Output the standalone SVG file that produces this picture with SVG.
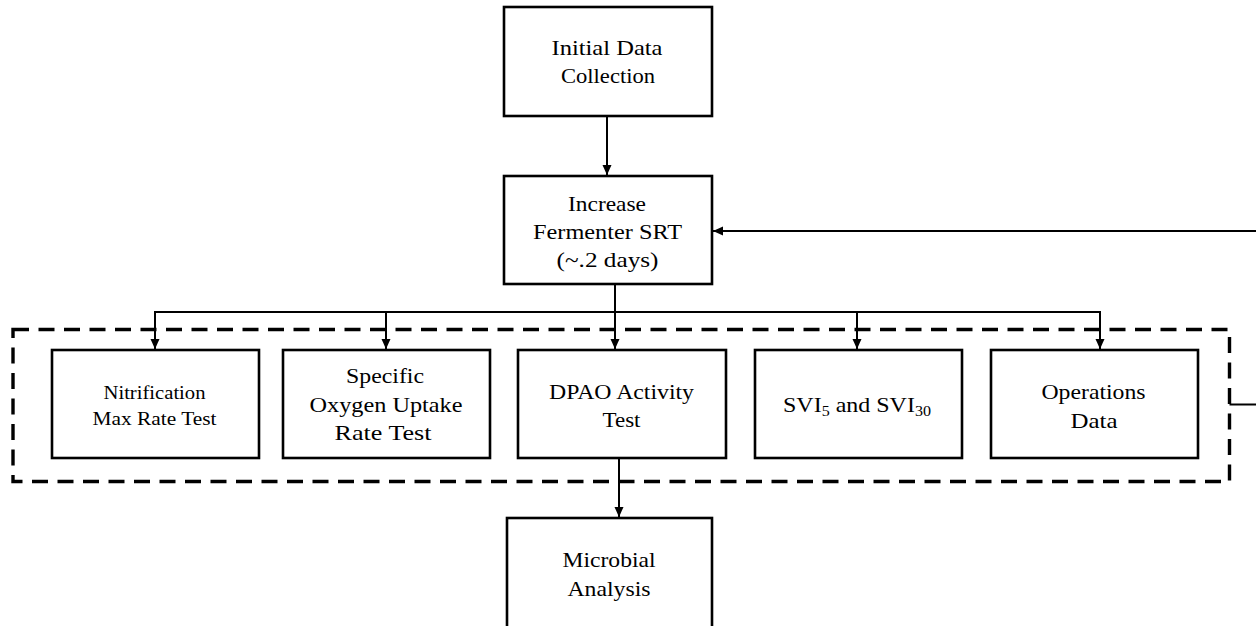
<svg xmlns="http://www.w3.org/2000/svg" width="1256" height="626" viewBox="0 0 1256 626">
<style>
.box{fill:#fff;stroke:#000;stroke-width:2.6}
.t{font-family:"Liberation Serif","Times New Roman",serif;font-size:20.9px;fill:#000;text-anchor:middle}
.s{font-size:18px}
.c{fill:none;stroke:#000;stroke-width:2}
.dash{fill:none;stroke:#000;stroke-width:3.4;stroke-dasharray:16 9.5}
</style>
<defs>
<marker id="ah" viewBox="0 0 10 10" refX="10" refY="5" markerWidth="10" markerHeight="10" markerUnits="userSpaceOnUse" orient="auto">
<path d="M0,0.5 L10,5 L0,9.5 z" fill="#000"/>
</marker>
</defs>
<rect class="dash" x="13" y="329.5" width="1216.5" height="152"/>
<g id="connectors">
<line class="c" x1="607" y1="116" x2="607" y2="175" marker-end="url(#ah)"/>
<line class="c" x1="1256" y1="231" x2="713" y2="231" marker-end="url(#ah)"/>
<line class="c" x1="1229.5" y1="404.5" x2="1256" y2="404.5"/>
<line class="c" x1="615" y1="284" x2="615" y2="312"/>
<polyline class="c" points="155,349 155,312 1100,312 1100,349" marker-end="url(#ah)"/>
<line class="c" x1="155" y1="312" x2="155" y2="349" marker-end="url(#ah)"/>
<line class="c" x1="386" y1="312" x2="386" y2="349" marker-end="url(#ah)"/>
<line class="c" x1="615" y1="312" x2="615" y2="349" marker-end="url(#ah)"/>
<line class="c" x1="857" y1="312" x2="857" y2="349" marker-end="url(#ah)"/>
<line class="c" x1="619" y1="458" x2="619" y2="517" marker-end="url(#ah)"/>
</g>
<g id="initial">
<rect class="box" x="504" y="7" width="208" height="109"/>
<text class="t" x="607" y="55" textLength="111" lengthAdjust="spacingAndGlyphs">Initial Data</text>
<text class="t" x="608" y="83" textLength="94" lengthAdjust="spacingAndGlyphs">Collection</text>
</g>
<g id="increase">
<rect class="box" x="504" y="176" width="208" height="108"/>
<text class="t" x="607" y="211" textLength="78" lengthAdjust="spacingAndGlyphs">Increase</text>
<text class="t" x="607.5" y="239" textLength="149" lengthAdjust="spacingAndGlyphs">Fermenter SRT</text>
<text class="t" x="607.5" y="267" textLength="102" lengthAdjust="spacingAndGlyphs">(~.2 days)</text>
</g>
<g id="nitrification">
<rect class="box" x="52" y="350" width="207" height="108"/>
<text class="t s" x="154.5" y="399" textLength="102" lengthAdjust="spacingAndGlyphs">Nitrification</text>
<text class="t s" x="154.5" y="425" textLength="124" lengthAdjust="spacingAndGlyphs">Max Rate Test</text>
</g>
<g id="sour">
<rect class="box" x="283" y="350" width="207" height="108"/>
<text class="t" x="385" y="383" textLength="78" lengthAdjust="spacingAndGlyphs">Specific</text>
<text class="t" x="386" y="412" textLength="153" lengthAdjust="spacingAndGlyphs">Oxygen Uptake</text>
<text class="t" x="383" y="440" textLength="97" lengthAdjust="spacingAndGlyphs">Rate Test</text>
</g>
<g id="dpao">
<rect class="box" x="518" y="350" width="208" height="108"/>
<text class="t" x="621.5" y="399" textLength="145" lengthAdjust="spacingAndGlyphs">DPAO Activity</text>
<text class="t" x="621.5" y="427" textLength="38" lengthAdjust="spacingAndGlyphs">Test</text>
</g>
<g id="svi">
<rect class="box" x="755" y="350" width="207" height="108"/>
<text class="t" x="857" y="412" textLength="148" lengthAdjust="spacingAndGlyphs">SVI<tspan style="font-size:14px" dy="4">5</tspan><tspan dy="-4"> and SVI</tspan><tspan style="font-size:14px" dy="4">30</tspan></text>
</g>
<g id="operations">
<rect class="box" x="991" y="350" width="207" height="108"/>
<text class="t" x="1093.5" y="399" textLength="104" lengthAdjust="spacingAndGlyphs">Operations</text>
<text class="t" x="1094" y="428" textLength="47" lengthAdjust="spacingAndGlyphs">Data</text>
</g>
<g id="microbial">
<rect class="box" x="507" y="518" width="205" height="120"/>
<text class="t" x="609" y="567" textLength="93" lengthAdjust="spacingAndGlyphs">Microbial</text>
<text class="t" x="609" y="596" textLength="83" lengthAdjust="spacingAndGlyphs">Analysis</text>
</g>
</svg>
